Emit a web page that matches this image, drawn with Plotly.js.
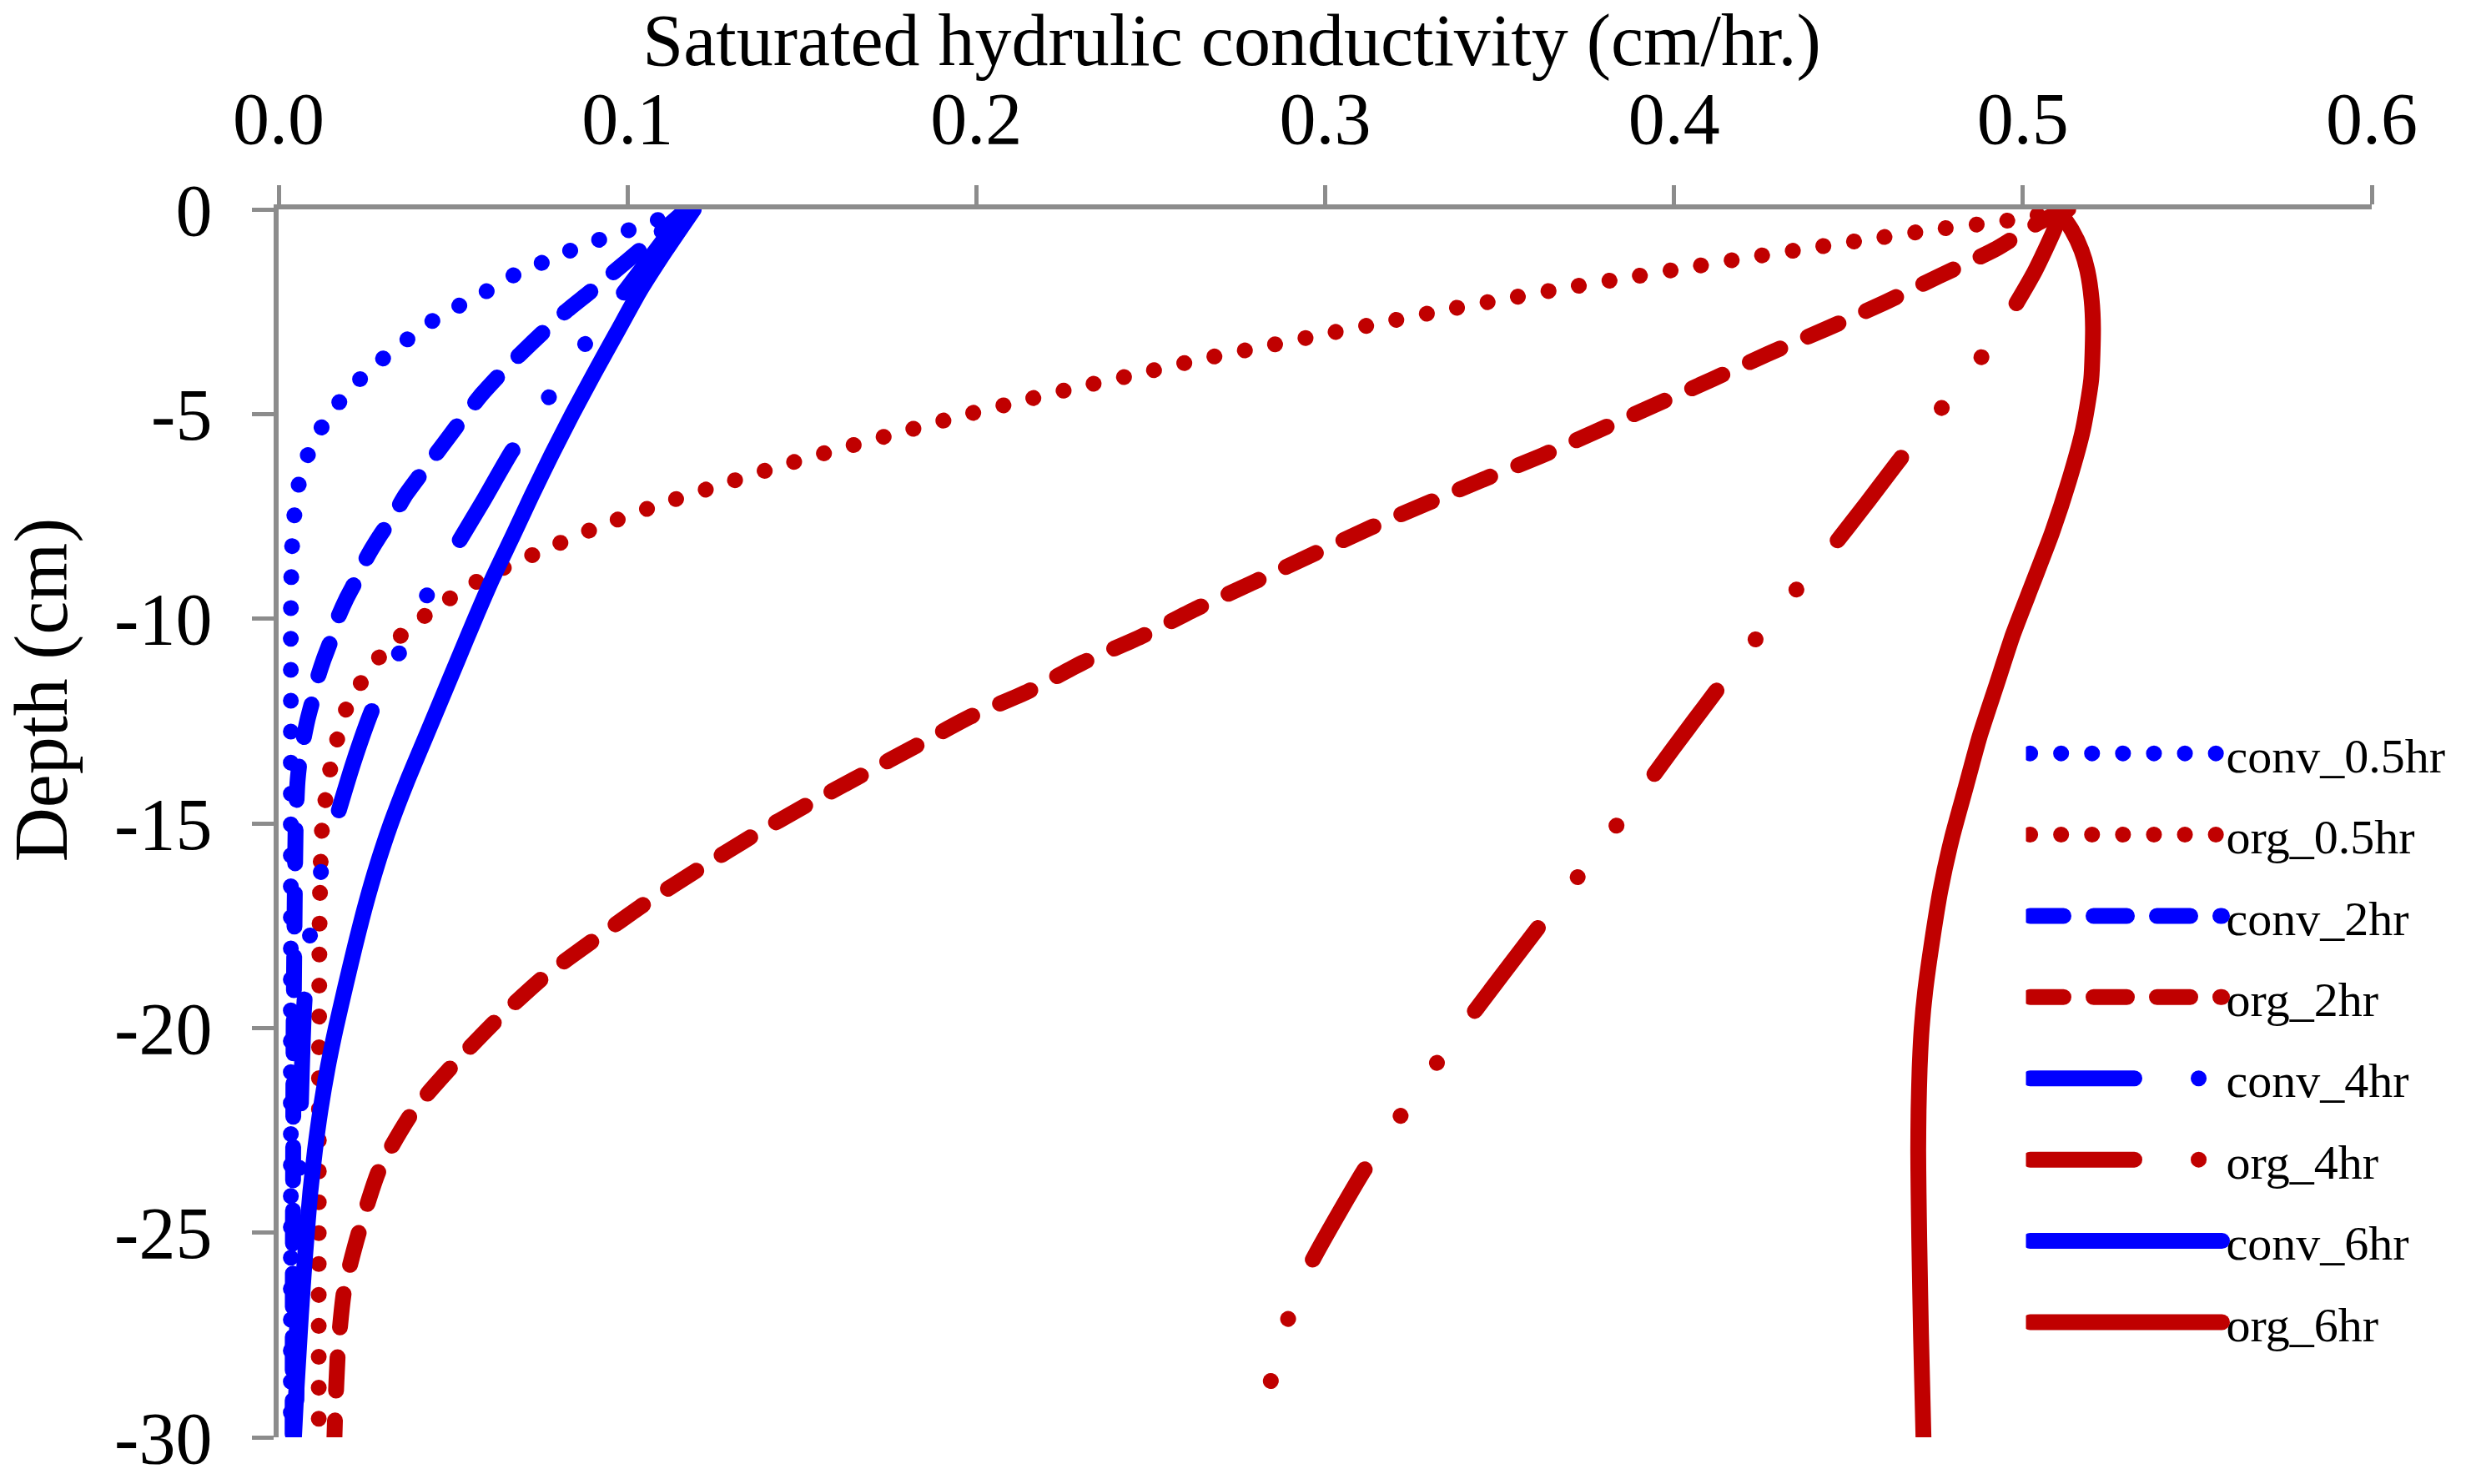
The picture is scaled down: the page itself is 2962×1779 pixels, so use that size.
<!DOCTYPE html>
<html>
<head>
<meta charset="utf-8">
<script src="https://cdn.plot.ly/plotly-3.0.1.min.js"></script>
<style>
  html, body { margin: 0; padding: 0; background: #ffffff; }
  #chart { width: 2962px; height: 1779px; }
</style>
</head>
<body>
<div id="chart"></div>
<script>
// ---------------- data (depth in cm, saturated hydraulic conductivity in cm/hr) ----------------
const seriesNames = ["conv_0.5hr", "org_0.5hr", "conv_2hr", "org_2hr", "conv_4hr", "org_4hr", "conv_6hr", "org_6hr"];

const depthConv05 = [0, -0.25, -0.5, -0.73, -1.0, -1.3, -1.6, -2.0, -2.35, -2.73, -3.19, -3.66, -4.16, -4.74, -5.37, -6.06, -6.78, -7.56, -8.33, -9.1, -10, -12, -15, -20, -25, -30];
const kConv05     = [0.117, 0.109, 0.1007, 0.0923, 0.0838, 0.0756, 0.0676, 0.0596, 0.0518, 0.044, 0.0367, 0.0297, 0.0232, 0.0171, 0.012, 0.0081, 0.0056, 0.0044, 0.0038, 0.0036, 0.0035, 0.0035, 0.0035, 0.0035, 0.0035, 0.0035];

const depthOrg05 = [0, -0.29, -0.47, -0.69, -0.92, -1.15, -1.4, -1.65, -1.9, -2.17, -2.45, -2.75, -3.05, -3.36, -3.66, -4.01, -4.34, -4.70, -5.07, -5.47, -5.87, -6.3, -6.76, -7.23, -7.76, -8.36, -8.98, -9.82, -10.8, -12.07, -13.54, -15.06, -17, -20, -25, -30];
const kOrg05     = [0.513, 0.4944, 0.4768, 0.459, 0.441, 0.4233, 0.4055, 0.388, 0.3703, 0.3528, 0.3349, 0.3174, 0.2997, 0.282, 0.2645, 0.2469, 0.2294, 0.212, 0.1945, 0.1772, 0.16, 0.1426, 0.1256, 0.1085, 0.0915, 0.075, 0.0591, 0.0436, 0.0302, 0.02, 0.0151, 0.0125, 0.0118, 0.0116, 0.0115, 0.0115];

const depthConv2 = [0, -1, -1.5, -2, -2.5, -3, -3.5, -4, -4.5, -5, -5.5, -6, -6.5, -7, -7.5, -8, -8.5, -9, -9.5, -10, -10.5, -11, -11.5, -12, -12.5, -13, -13.5, -14, -15, -17, -20, -25, -30];
const kConv2     = [0.117, 0.1035, 0.0965, 0.0895, 0.0822, 0.0758, 0.0697, 0.0638, 0.0584, 0.0537, 0.0493, 0.0449, 0.0405, 0.0362, 0.0328, 0.0288, 0.0253, 0.0226, 0.0195, 0.0169, 0.0151, 0.0129, 0.011, 0.0097, 0.0082, 0.007, 0.006, 0.0054, 0.0049, 0.0046, 0.0043, 0.0041, 0.004];

const depthOrg2 = [0, -0.35, -0.96, -1.63, -2.28, -2.92, -3.53, -4.14, -4.76, -5.4, -6.02, -6.6, -7.2, -7.78, -8.42, -9.12, -9.77, -10.44, -11.07, -11.77, -12.39, -13.1, -13.82, -14.56, -15.3, -16.1, -16.95, -17.84, -18.74, -19.78, -20.88, -22.04, -23.45, -25.05, -26.4, -27.9, -29.45, -30];
const kOrg2     = [0.512, 0.504, 0.4924, 0.476, 0.4603, 0.4436, 0.4269, 0.4113, 0.395, 0.3783, 0.362, 0.3453, 0.3287, 0.3129, 0.2967, 0.2792, 0.2627, 0.2472, 0.2306, 0.215, 0.1984, 0.1829, 0.1672, 0.1512, 0.136, 0.1208, 0.1052, 0.0905, 0.0762, 0.0628, 0.0503, 0.0385, 0.0289, 0.0228, 0.0188, 0.017, 0.0162, 0.016];

const depthConv4 = [0, -1.42, -2.14, -3.39, -4.65, -5.92, -7.1, -8.24, -9.51, -10.92, -12.23, -13.5, -14.9, -16.3, -17.8, -19.5, -21.5, -24, -27, -30];
const kConv4     = [0.117, 0.1044, 0.098, 0.087, 0.077, 0.0668, 0.0588, 0.0508, 0.042, 0.0341, 0.0268, 0.0215, 0.0165, 0.0118, 0.0089, 0.0073, 0.0065, 0.0058, 0.0053, 0.005];

const depthOrg4 = [0, -0.5, -1.5, -2.5, -3.71, -4.92, -6.08, -7.2, -8.3, -9.4, -10.6, -11.8, -13.2, -15, -16.3, -17.6, -19.8, -21.0, -22.25, -23.5, -25.9, -27.25, -28.7, -30];
const kOrg4     = [0.511, 0.509, 0.5035, 0.4967, 0.4873, 0.4761, 0.465, 0.455, 0.4449, 0.434, 0.4225, 0.4118, 0.3995, 0.384, 0.3725, 0.3606, 0.341, 0.3308, 0.3208, 0.311, 0.295, 0.2888, 0.2842, 0.281];

const depthConv6 = [0, -1, -2, -3, -4, -5, -6, -7, -8, -9, -10, -11, -12, -13, -14, -15, -16, -17, -18, -19, -20, -21, -22, -23, -24, -25, -26, -27, -28, -29, -30];
const kConv6     = [0.119, 0.111, 0.1035, 0.097, 0.0905, 0.0842, 0.0782, 0.0725, 0.067, 0.0614, 0.0563, 0.0514, 0.0465, 0.0416, 0.0367, 0.0322, 0.0283, 0.0249, 0.0219, 0.0191, 0.0164, 0.014, 0.012, 0.0104, 0.0091, 0.0081, 0.0072, 0.0064, 0.0057, 0.005, 0.0044];

const depthOrg6 = [0, -0.5, -1.0, -1.5, -2.2, -2.9, -4.15, -5.39, -6.64, -7.89, -9.14, -10.38, -11.63, -12.88, -14.13, -15.38, -16.62, -17.87, -19.1, -20, -21, -22, -23, -24, -25.2, -27.5, -30];
const kOrg6     = [0.510, 0.514, 0.5168, 0.5185, 0.5197, 0.5201, 0.5196, 0.5172, 0.5132, 0.5084, 0.5028, 0.4972, 0.4924, 0.4876, 0.4836, 0.4796, 0.4764, 0.474, 0.472, 0.471, 0.4704, 0.4701, 0.470, 0.4701, 0.4703, 0.4708, 0.4715];

const xTickVals = [0, 0.1, 0.2, 0.3, 0.4, 0.5, 0.6];
const xTickText = ["0.0", "0.1", "0.2", "0.3", "0.4", "0.5", "0.6"];
const yTickVals = [0, -5, -10, -15, -20, -25, -30];
const yTickText = ["0", "-5", "-10", "-15", "-20", "-25", "-30"];

const xTitle = "Saturated hydrulic conductivity (cm/hr.)";
const yTitle = "Depth (cm)";

// ---------------- styling ----------------
const BLUE = "#0000FF";
const RED = "#C00000";
const LW = 19;
const DOT = "0.1px,37px";
const DASH = "40px,36px";
const LDDD = "125px,77px,0.1px,77px,0.1px,77px";
const FONT = "Liberation Serif, Times New Roman, serif";

const xs = [kConv05, kOrg05, kConv2, kOrg2, kConv4, kOrg4, kConv6, kOrg6];
const ys = [depthConv05, depthOrg05, depthConv2, depthOrg2, depthConv4, depthOrg4, depthConv6, depthOrg6];
const colors = [BLUE, RED, BLUE, RED, BLUE, RED, BLUE, RED];
const dashes = [DOT, DOT, DASH, DASH, LDDD, LDDD, "solid", "solid"];

const traces = seriesNames.map((name, i) => ({
  type: "scatter",
  mode: "lines",
  name: name,
  legendgroup: "g" + i,
  x: xs[i],
  y: ys[i],
  line: { color: colors[i], width: LW, dash: dashes[i], shape: "spline", smoothing: 0.6 },
  hoverinfo: "skip"
}));

const layout = {
  width: 2962,
  height: 1779,
  paper_bgcolor: "#ffffff",
  plot_bgcolor: "#ffffff",
  margin: { l: 334, r: 119, t: 251, b: 56, pad: 0 },
  font: { family: FONT, size: 88, color: "#000000" },
  showlegend: true,
  legend: {
    x: 0.8348, y: 0.587, xanchor: "left", yanchor: "top",
    font: { family: FONT, size: 58, color: "#000000" },
    itemwidth: 230,
    tracegroupgap: 19,
    bgcolor: "rgba(255,255,255,0)",
    borderwidth: 0,
    traceorder: "grouped"
  },
  xaxis: {
    side: "top",
    range: [0, 0.6],
    tickvals: xTickVals,
    ticktext: xTickText,
    ticks: "outside",
    ticklen: 23,
    tickwidth: 5,
    tickcolor: "#8c8c8c",
    showline: true,
    linecolor: "#8c8c8c",
    linewidth: 6,
    showgrid: false,
    zeroline: false,
    ticklabelstandoff: 15,
    tickfont: { family: FONT, size: 88, color: "#000000" },
    title: { text: xTitle, font: { family: FONT, size: 88, color: "#000000" }, standoff: 55 },
    fixedrange: true
  },
  yaxis: {
    range: [-30, 0],
    tickvals: yTickVals,
    ticktext: yTickText,
    ticks: "outside",
    ticklen: 26,
    tickwidth: 5,
    tickcolor: "#8c8c8c",
    showline: true,
    linecolor: "#8c8c8c",
    linewidth: 6,
    showgrid: false,
    zeroline: false,
    ticklabelstandoff: 30,
    tickfont: { family: FONT, size: 88, color: "#000000" },
    title: { text: yTitle, font: { family: FONT, size: 90, color: "#000000" }, standoff: 30 },
    fixedrange: true
  }
};

function tweak() {
  document.querySelectorAll("path.js-line").forEach(p => {
    p.style.strokeLinecap = "round";
    p.style.strokeLinejoin = "round";
  });
  document.querySelectorAll(".legend path.js-line").forEach(p => {
    p.style.strokeWidth = LW + "px";
  });
  const xt = document.querySelector(".g-xtitle text");
  if (xt) {
    const x = parseFloat(xt.getAttribute("x"));
    xt.setAttribute("x", x - 112);
  }
  const yt = document.querySelector(".g-ytitle text");
  if (yt) {
    const x = parseFloat(yt.getAttribute("x"));
    const y = parseFloat(yt.getAttribute("y")) - 160;
    yt.setAttribute("y", y);
    yt.setAttribute("transform", "rotate(-90," + x + "," + y + ")");
  }
}

Plotly.newPlot("chart", traces, layout, { displayModeBar: false, staticPlot: true }).then(tweak);
</script>
</body>
</html>
